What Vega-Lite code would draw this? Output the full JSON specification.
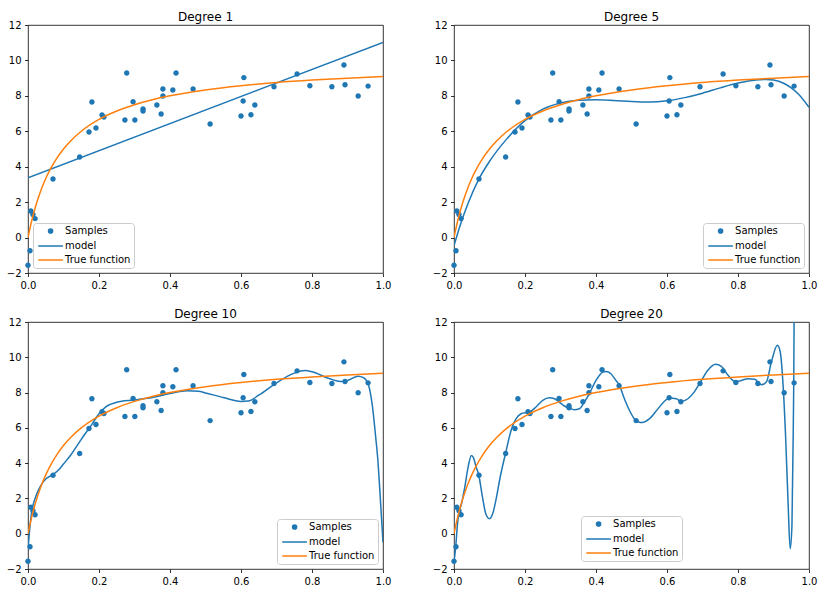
{
  "$schema": "https://vega.github.io/schema/vega-lite/v6.json",
  "padding": {"left": 5, "top": 10, "right": 5, "bottom": 5},
  "background": "white",
  "datasets": {
    "samples": [
      {"x": 0.0, "y": -1.56}, {"x": 0.0056, "y": -0.74}, {"x": 0.008, "y": 1.5}, {"x": 0.014, "y": 1.3}, {"x": 0.02, "y": 1.07},
      {"x": 0.0704, "y": 3.31}, {"x": 0.1455, "y": 4.55}, {"x": 0.1718, "y": 5.96}, {"x": 0.18, "y": 7.65}, {"x": 0.1915, "y": 6.19},
      {"x": 0.2085, "y": 6.92}, {"x": 0.214, "y": 6.81}, {"x": 0.273, "y": 6.64}, {"x": 0.278, "y": 9.29}, {"x": 0.296, "y": 7.67},
      {"x": 0.301, "y": 6.64}, {"x": 0.324, "y": 7.26}, {"x": 0.324, "y": 7.14}, {"x": 0.363, "y": 7.48}, {"x": 0.375, "y": 6.98},
      {"x": 0.38, "y": 8.39}, {"x": 0.38, "y": 7.99}, {"x": 0.408, "y": 8.33}, {"x": 0.417, "y": 9.29}, {"x": 0.465, "y": 8.39},
      {"x": 0.513, "y": 6.41}, {"x": 0.6, "y": 6.86}, {"x": 0.606, "y": 7.71}, {"x": 0.608, "y": 9.03}, {"x": 0.628, "y": 6.93},
      {"x": 0.639, "y": 7.48}, {"x": 0.693, "y": 8.52}, {"x": 0.758, "y": 9.23}, {"x": 0.794, "y": 8.57}, {"x": 0.856, "y": 8.51},
      {"x": 0.89, "y": 9.74}, {"x": 0.893, "y": 8.63}, {"x": 0.93, "y": 7.99}, {"x": 0.958, "y": 8.55}
    ],
    "truefn": [
      {"x": 0, "y": 0}, {"x": 0.002, "y": 0.196}, {"x": 0.005, "y": 0.476}, {"x": 0.01, "y": 0.909}, {"x": 0.02, "y": 1.667},
      {"x": 0.03, "y": 2.308}, {"x": 0.04, "y": 2.857}, {"x": 0.05, "y": 3.333}, {"x": 0.06, "y": 3.75}, {"x": 0.08, "y": 4.444},
      {"x": 0.1, "y": 5.0}, {"x": 0.12, "y": 5.455}, {"x": 0.15, "y": 6.0}, {"x": 0.2, "y": 6.667}, {"x": 0.25, "y": 7.143},
      {"x": 0.3, "y": 7.5}, {"x": 0.35, "y": 7.778}, {"x": 0.4, "y": 8.0}, {"x": 0.5, "y": 8.333}, {"x": 0.6, "y": 8.571},
      {"x": 0.7, "y": 8.75}, {"x": 0.8, "y": 8.889}, {"x": 0.9, "y": 9.0}, {"x": 1.0, "y": 9.091}
    ],
    "m1": [{"x": 0, "y": 3.38}, {"x": 1, "y": 11.02}],
    "m5": [
      {"x": 0, "y": -0.46}, {"x": 0.02, "y": 0.85}, {"x": 0.04, "y": 1.95}, {"x": 0.07, "y": 3.3}, {"x": 0.1, "y": 4.3},
      {"x": 0.15, "y": 5.6}, {"x": 0.2, "y": 6.6}, {"x": 0.25, "y": 7.25}, {"x": 0.3, "y": 7.6}, {"x": 0.35, "y": 7.75},
      {"x": 0.4, "y": 7.78}, {"x": 0.45, "y": 7.74}, {"x": 0.5, "y": 7.68}, {"x": 0.55, "y": 7.65}, {"x": 0.6, "y": 7.72},
      {"x": 0.65, "y": 7.9}, {"x": 0.7, "y": 8.15}, {"x": 0.75, "y": 8.45}, {"x": 0.8, "y": 8.72}, {"x": 0.85, "y": 8.9},
      {"x": 0.88, "y": 8.93}, {"x": 0.9, "y": 8.9}, {"x": 0.93, "y": 8.7}, {"x": 0.95, "y": 8.45}, {"x": 0.97, "y": 8.1},
      {"x": 1.0, "y": 7.35}
    ],
    "m10": [
      {"x": 0, "y": -0.9}, {"x": 0.005, "y": 0.3}, {"x": 0.01, "y": 1.2}, {"x": 0.02, "y": 2.0}, {"x": 0.03, "y": 2.5},
      {"x": 0.04, "y": 2.85}, {"x": 0.05, "y": 3.1}, {"x": 0.07, "y": 3.35}, {"x": 0.09, "y": 3.7}, {"x": 0.1, "y": 3.95},
      {"x": 0.12, "y": 4.45}, {"x": 0.15, "y": 5.35}, {"x": 0.18, "y": 6.2}, {"x": 0.2, "y": 6.8}, {"x": 0.22, "y": 7.2},
      {"x": 0.25, "y": 7.45}, {"x": 0.3, "y": 7.58}, {"x": 0.35, "y": 7.72}, {"x": 0.4, "y": 7.95}, {"x": 0.45, "y": 8.1},
      {"x": 0.48, "y": 8.08}, {"x": 0.5, "y": 7.98}, {"x": 0.55, "y": 7.72}, {"x": 0.6, "y": 7.5}, {"x": 0.62, "y": 7.52},
      {"x": 0.65, "y": 7.85}, {"x": 0.7, "y": 8.55}, {"x": 0.75, "y": 9.1}, {"x": 0.78, "y": 9.25}, {"x": 0.8, "y": 9.18},
      {"x": 0.85, "y": 8.78}, {"x": 0.88, "y": 8.63}, {"x": 0.9, "y": 8.68}, {"x": 0.93, "y": 8.93}, {"x": 0.945, "y": 8.85},
      {"x": 0.958, "y": 8.5}, {"x": 0.97, "y": 7.26}, {"x": 0.979, "y": 5.56}, {"x": 0.986, "y": 4.05}, {"x": 0.992, "y": 2.16},
      {"x": 1.0, "y": -0.49}
    ],
    "m20": [
      {"x": 0, "y": -1.6}, {"x": 0.005, "y": -0.7}, {"x": 0.01, "y": 0.6}, {"x": 0.015, "y": 1.3}, {"x": 0.02, "y": 1.6},
      {"x": 0.03, "y": 2.6}, {"x": 0.04, "y": 3.8}, {"x": 0.049, "y": 4.44}, {"x": 0.055, "y": 4.3}, {"x": 0.062, "y": 3.8},
      {"x": 0.07, "y": 3.3}, {"x": 0.08, "y": 2.1}, {"x": 0.09, "y": 1.1}, {"x": 0.1, "y": 0.85}, {"x": 0.11, "y": 1.2},
      {"x": 0.12, "y": 2.1}, {"x": 0.13, "y": 3.2}, {"x": 0.145, "y": 4.53}, {"x": 0.161, "y": 5.86}, {"x": 0.175, "y": 6.52},
      {"x": 0.189, "y": 6.8}, {"x": 0.213, "y": 6.9}, {"x": 0.231, "y": 7.18}, {"x": 0.25, "y": 7.56}, {"x": 0.269, "y": 7.7},
      {"x": 0.283, "y": 7.65}, {"x": 0.297, "y": 7.45}, {"x": 0.311, "y": 7.24}, {"x": 0.325, "y": 7.12}, {"x": 0.339, "y": 7.03},
      {"x": 0.353, "y": 7.08}, {"x": 0.367, "y": 7.46}, {"x": 0.381, "y": 7.93}, {"x": 0.4, "y": 8.69}, {"x": 0.419, "y": 9.16},
      {"x": 0.428, "y": 9.2}, {"x": 0.442, "y": 9.07}, {"x": 0.456, "y": 8.69}, {"x": 0.466, "y": 8.41}, {"x": 0.48, "y": 7.65},
      {"x": 0.494, "y": 7.0}, {"x": 0.508, "y": 6.52}, {"x": 0.52, "y": 6.33}, {"x": 0.53, "y": 6.3}, {"x": 0.551, "y": 6.52},
      {"x": 0.575, "y": 7.09}, {"x": 0.598, "y": 7.6}, {"x": 0.607, "y": 7.69}, {"x": 0.626, "y": 7.65}, {"x": 0.64, "y": 7.5},
      {"x": 0.659, "y": 7.65}, {"x": 0.678, "y": 8.07}, {"x": 0.697, "y": 8.69}, {"x": 0.715, "y": 9.26}, {"x": 0.737, "y": 9.6},
      {"x": 0.753, "y": 9.49}, {"x": 0.772, "y": 8.98}, {"x": 0.791, "y": 8.64}, {"x": 0.805, "y": 8.66}, {"x": 0.828, "y": 8.79},
      {"x": 0.847, "y": 8.75}, {"x": 0.866, "y": 8.45}, {"x": 0.88, "y": 8.6}, {"x": 0.894, "y": 9.73}, {"x": 0.911, "y": 10.68},
      {"x": 0.919, "y": 10.3}, {"x": 0.927, "y": 8.41}, {"x": 0.934, "y": 5.57}, {"x": 0.941, "y": 1.8}, {"x": 0.947, "y": -0.85},
      {"x": 0.952, "y": 0.47}, {"x": 0.956, "y": 6.52}, {"x": 0.957, "y": 8.54}, {"x": 0.958, "y": 12.0}, {"x": 0.962, "y": 20.0}
    ]
  },
  "config": {
    "font": "DejaVu Sans",
    "view": {"stroke": "black", "strokeWidth": 0.8},
    "axis": {"domain": false, "grid": false, "tickColor": "black", "tickSize": 3.5, "tickWidth": 0.8,
      "labelFont": "DejaVu Sans", "labelFontSize": 10, "labelColor": "black", "labelPadding": 3.5,
      "labelFlush": false, "labelOverlap": false, "title": null},
    "axisY": {"labelOverlap": false},
    "axisLeft": {"labelOverlap": false},
    "title": {"font": "DejaVu Sans", "fontSize": 12, "fontWeight": "normal", "color": "black", "anchor": "middle", "frame": "group", "baseline": "alphabetic", "offset": -4},
    "legend": {"title": null, "offset": 5, "padding": 3, "rowPadding": 4, "labelOffset": 9.5, "symbolSize": 30, "symbolOffset": 9.6, "symbolStrokeWidth": 1.5,
      "fillColor": "rgba(255,255,255,0.8)", "strokeColor": "#cccccc", "cornerRadius": 3,
      "labelFont": "DejaVu Sans", "labelFontSize": 10, "labelColor": "black"}
  },
  "columns": 2,
  "bounds": "flush",
  "spacing": {"row": 49, "column": 71},
  "resolve": {"scale": {"color": "independent", "shape": "independent"}, "legend": {"color": "independent", "shape": "independent"}},
  "concat": [
    {
      "title": "Degree 1", "width": 355, "height": 248,
      "layer": [
        {"data": {"name": "samples"}, "mark": {"type": "point", "filled": true, "size": 53, "opacity": 1},
         "encoding": {
          "x": {"field": "x", "type": "quantitative", "scale": {"domain": [0, 1], "nice": false}, "axis": {"values": [0, 0.2, 0.4, 0.6, 0.8, 1], "format": ".1f", "labelOverlap": false}},
          "y": {"field": "y", "type": "quantitative", "scale": {"domain": [-2, 12], "nice": false}, "axis": {"values": [-2, 0, 2, 4, 6, 8, 10, 12], "labelOverlap": false, "tickCount": 8}},
          "color": {"datum": "Samples", "scale": {"domain": ["Samples", "model", "True function"], "range": ["#1f77b4", "#1f77b4", "#ff7f0e"]}, "legend": {"orient": "bottom-left"}},
          "shape": {"datum": "Samples", "scale": {"domain": ["Samples", "model", "True function"], "range": ["M-0.75,0A0.75,0.75 0 1,0 0.75,0A0.75,0.75 0 1,0 -0.75,0Z", "M-4.5,0H4.5", "M-4.5,0H4.5"]}, "legend": {"orient": "bottom-left"}}
        }},
        {"data": {"name": "m1"}, "mark": {"type": "line", "strokeWidth": 1.5, "clip": true},
         "encoding": {"x": {"field": "x", "type": "quantitative"}, "y": {"field": "y", "type": "quantitative"}, "color": {"datum": "model"}}},
        {"data": {"name": "truefn"}, "mark": {"type": "line", "strokeWidth": 1.5, "clip": true, "interpolate": "monotone"},
         "encoding": {"x": {"field": "x", "type": "quantitative"}, "y": {"field": "y", "type": "quantitative"}, "color": {"datum": "True function"}}}
      ]
    },
    {
      "title": "Degree 5", "width": 355, "height": 248,
      "layer": [
        {"data": {"name": "samples"}, "mark": {"type": "point", "filled": true, "size": 53, "opacity": 1},
         "encoding": {
          "x": {"field": "x", "type": "quantitative", "scale": {"domain": [0, 1], "nice": false}, "axis": {"values": [0, 0.2, 0.4, 0.6, 0.8, 1], "format": ".1f", "labelOverlap": false}},
          "y": {"field": "y", "type": "quantitative", "scale": {"domain": [-2, 12], "nice": false}, "axis": {"values": [-2, 0, 2, 4, 6, 8, 10, 12], "labelOverlap": false, "tickCount": 8}},
          "color": {"datum": "Samples", "scale": {"domain": ["Samples", "model", "True function"], "range": ["#1f77b4", "#1f77b4", "#ff7f0e"]}, "legend": {"orient": "bottom-right"}},
          "shape": {"datum": "Samples", "scale": {"domain": ["Samples", "model", "True function"], "range": ["M-0.75,0A0.75,0.75 0 1,0 0.75,0A0.75,0.75 0 1,0 -0.75,0Z", "M-4.5,0H4.5", "M-4.5,0H4.5"]}, "legend": {"orient": "bottom-right"}}
        }},
        {"data": {"name": "m5"}, "mark": {"type": "line", "strokeWidth": 1.5, "clip": true, "interpolate": "monotone"},
         "encoding": {"x": {"field": "x", "type": "quantitative"}, "y": {"field": "y", "type": "quantitative"}, "color": {"datum": "model"}}},
        {"data": {"name": "truefn"}, "mark": {"type": "line", "strokeWidth": 1.5, "clip": true, "interpolate": "monotone"},
         "encoding": {"x": {"field": "x", "type": "quantitative"}, "y": {"field": "y", "type": "quantitative"}, "color": {"datum": "True function"}}}
      ]
    },
    {
      "title": "Degree 10", "width": 355, "height": 247,
      "layer": [
        {"data": {"name": "samples"}, "mark": {"type": "point", "filled": true, "size": 53, "opacity": 1},
         "encoding": {
          "x": {"field": "x", "type": "quantitative", "scale": {"domain": [0, 1], "nice": false}, "axis": {"values": [0, 0.2, 0.4, 0.6, 0.8, 1], "format": ".1f", "labelOverlap": false}},
          "y": {"field": "y", "type": "quantitative", "scale": {"domain": [-2, 12], "nice": false}, "axis": {"values": [-2, 0, 2, 4, 6, 8, 10, 12], "labelOverlap": false, "tickCount": 8}},
          "color": {"datum": "Samples", "scale": {"domain": ["Samples", "model", "True function"], "range": ["#1f77b4", "#1f77b4", "#ff7f0e"]}, "legend": {"orient": "bottom-right"}},
          "shape": {"datum": "Samples", "scale": {"domain": ["Samples", "model", "True function"], "range": ["M-0.75,0A0.75,0.75 0 1,0 0.75,0A0.75,0.75 0 1,0 -0.75,0Z", "M-4.5,0H4.5", "M-4.5,0H4.5"]}, "legend": {"orient": "bottom-right"}}
        }},
        {"data": {"name": "m10"}, "mark": {"type": "line", "strokeWidth": 1.5, "clip": true, "interpolate": "monotone"},
         "encoding": {"x": {"field": "x", "type": "quantitative"}, "y": {"field": "y", "type": "quantitative"}, "color": {"datum": "model"}}},
        {"data": {"name": "truefn"}, "mark": {"type": "line", "strokeWidth": 1.5, "clip": true, "interpolate": "monotone"},
         "encoding": {"x": {"field": "x", "type": "quantitative"}, "y": {"field": "y", "type": "quantitative"}, "color": {"datum": "True function"}}}
      ]
    },
    {
      "title": "Degree 20", "width": 355, "height": 247,
      "layer": [
        {"data": {"name": "samples"}, "mark": {"type": "point", "filled": true, "size": 53, "opacity": 1},
         "encoding": {
          "x": {"field": "x", "type": "quantitative", "scale": {"domain": [0, 1], "nice": false}, "axis": {"values": [0, 0.2, 0.4, 0.6, 0.8, 1], "format": ".1f", "labelOverlap": false}},
          "y": {"field": "y", "type": "quantitative", "scale": {"domain": [-2, 12], "nice": false}, "axis": {"values": [-2, 0, 2, 4, 6, 8, 10, 12], "labelOverlap": false, "tickCount": 8}},
          "color": {"datum": "Samples", "scale": {"domain": ["Samples", "model", "True function"], "range": ["#1f77b4", "#1f77b4", "#ff7f0e"]}, "legend": {"orient": "none", "legendX": 127, "legendY": 194}},
          "shape": {"datum": "Samples", "scale": {"domain": ["Samples", "model", "True function"], "range": ["M-0.75,0A0.75,0.75 0 1,0 0.75,0A0.75,0.75 0 1,0 -0.75,0Z", "M-4.5,0H4.5", "M-4.5,0H4.5"]}, "legend": {"orient": "none", "legendX": 127, "legendY": 194}}
        }},
        {"data": {"name": "m20"}, "mark": {"type": "line", "strokeWidth": 1.5, "clip": true, "interpolate": "monotone"},
         "encoding": {"x": {"field": "x", "type": "quantitative"}, "y": {"field": "y", "type": "quantitative"}, "color": {"datum": "model"}}},
        {"data": {"name": "truefn"}, "mark": {"type": "line", "strokeWidth": 1.5, "clip": true, "interpolate": "monotone"},
         "encoding": {"x": {"field": "x", "type": "quantitative"}, "y": {"field": "y", "type": "quantitative"}, "color": {"datum": "True function"}}}
      ]
    }
  ]
}
